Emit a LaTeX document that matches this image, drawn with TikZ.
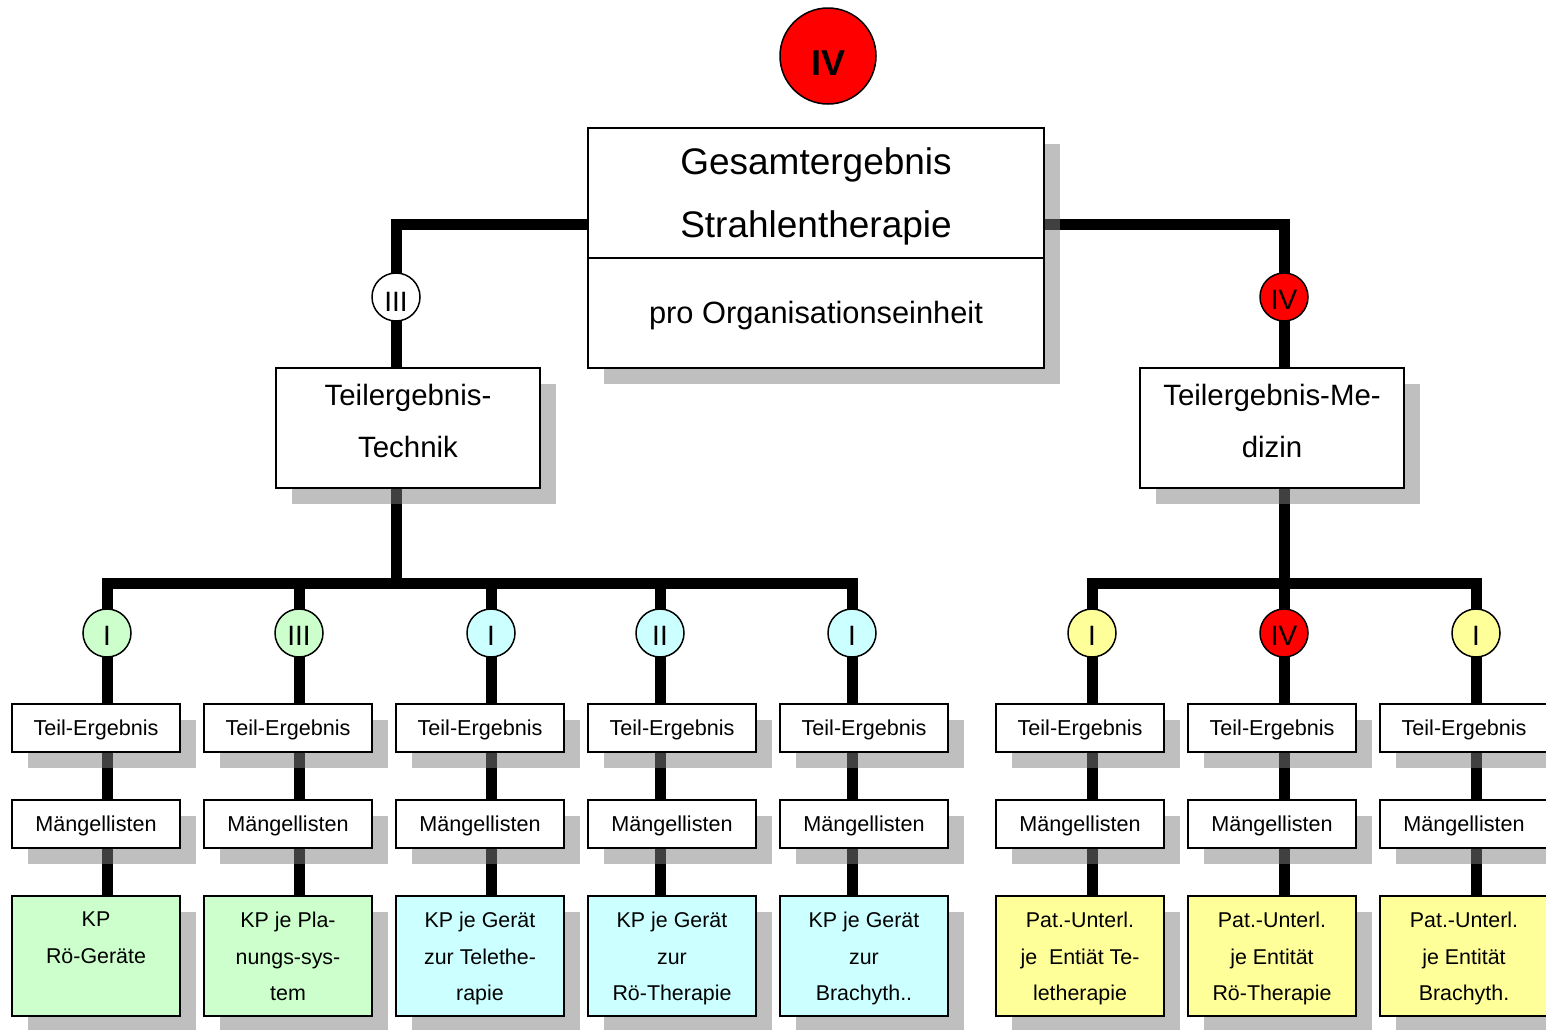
\documentclass[tikz,border=0pt]{standalone}
\usepackage{fontspec}
\setmainfont{Liberation Sans}
\usetikzlibrary{shadows}
\pgfdeclarelayer{lines}
\pgfsetlayers{lines,main}
\definecolor{grn}{HTML}{CCFFCC}
\definecolor{cyn}{HTML}{CCFFFF}
\definecolor{ylw}{HTML}{FFFF99}
\begin{document}
\begin{tikzpicture}[x=1pt,y=-1pt,
  conn/.style={line width=11pt},
  busline/.style={line width=11pt, line cap=rect},
  box/.style={draw, line width=1.5pt, fill=white, inner sep=0pt,
    drop shadow={shadow xshift=16pt, shadow yshift=-16pt}},
  rnd/.style={circle, draw, line width=1.5pt, inner sep=0pt, minimum size=48pt,
    font=\fontsize{28}{30}\selectfont, text height=24pt, text depth=0pt},
  small/.style={font=\fontsize{21.6}{25}\selectfont},
  kptext/.style={font=\fontsize{21.4}{36.5}\selectfont, align=center, inner sep=0pt, anchor=north},
  midtext/.style={font=\fontsize{29.4}{51.5}\selectfont, align=center, inner sep=0pt, anchor=north},
]
\useasboundingbox (0,0) rectangle (1546,1029);

% named coordinates for connector routing
\coordinate (yTop) at (0,224);
\coordinate (yBus) at (0,583);
\coordinate (yDiv) at (0,258);
\coordinate (xT) at (396,0);
\coordinate (xM) at (1284,0);

% top level
\node[rnd, fill=red, minimum size=96pt, font=\bfseries\fontsize{36}{40}\selectfont, text height=38pt] (top) at (828,56) {IV};
\node[box, minimum width=456pt, minimum height=240pt] (main) at (816,248) {};
\draw[line width=1.5pt] (main.west |- yDiv) -- (main.east |- yDiv);
\node[anchor=base, inner sep=0pt, font=\fontsize{37}{40}\selectfont] (g1) at (816,174) {Gesamtergebnis};
\node[anchor=base, inner sep=0pt, font=\fontsize{37}{40}\selectfont] (g2) at (816,237) {Strahlentherapie};
\node[anchor=base, inner sep=0pt, font=\fontsize{30.8}{32}\selectfont] (g3) at (816,323) {pro Organisationseinheit};

% second level
\node[box, minimum width=264pt, minimum height=120pt] (tech) at (408,428) {};
\node[midtext] (techt) at (408,384) {Teilergebnis-\\Technik};
\node[box, minimum width=264pt, minimum height=120pt] (med) at (1272,428) {};
\node[midtext] (medt) at (1272,384) {Teilergebnis-Me-\\dizin};

\node[rnd, fill=white, text height=28pt] (ctech) at (396,297) {III};
\node[rnd, fill=red] (cmed) at (1284,297) {IV};

\begin{pgfonlayer}{lines}
  \draw[conn] (main.west |- yTop) -| (tech.north -| xT);
  \draw[conn] (main.east |- yTop) -| (med.north -| xM);
  \draw[conn] (tech.south -| xT) -- (xT |- yBus);
  \draw[conn] (med.south -| xM) -- (xM |- yBus);
\end{pgfonlayer}

% bottom columns
\foreach \i/\cx/\lx/\bc/\cc/\r/\txt in {
  1/96/107/grn/grn/I/{KP\\Rö-Geräte},
  2/288/299/grn/grn/III/{KP je Pla-\\nungs-sys-\\tem},
  3/480/491/cyn/cyn/I/{KP je Gerät\\zur Telethe-\\rapie},
  4/672/660/cyn/cyn/II/{KP je Gerät\\zur\\Rö-Therapie},
  5/864/852/cyn/cyn/I/{KP je Gerät\\zur\\Brachyth..},
  6/1080/1092/ylw/ylw/I/{Pat.-Unterl.\\je~ Entiät Te-\\letherapie},
  7/1272/1284/ylw/red/IV/{Pat.-Unterl.\\je Entität\\Rö-Therapie},
  8/1464/1476/ylw/ylw/I/{Pat.-Unterl.\\je Entität\\Brachyth.}}{
  \coordinate (l\i) at (\lx,583);
  \node[box, small, minimum width=168pt, minimum height=48pt, text height=15pt, text depth=1pt] (te\i) at (\cx,728) {Teil-Ergebnis};
  \node[box, small, minimum width=168pt, minimum height=48pt, text height=15pt, text depth=1pt] (ml\i) at (\cx,824) {Mängellisten};
  \node[box, fill=\bc, minimum width=168pt, minimum height=120pt] (kp\i) at (\cx,956) {};
  \node[kptext] (kt\i) at (\cx,912) {\txt};
  \node[rnd, fill=\cc] (c\i) at (\lx,633) {\r};
  \begin{pgfonlayer}{lines}
    \draw[conn] (l\i) -- (l\i |- kp\i.north);
  \end{pgfonlayer}
}

\begin{pgfonlayer}{lines}
  \draw[busline] (l1) -- (l5);
  \draw[busline] (l6) -- (l8);
\end{pgfonlayer}
\end{tikzpicture}
\end{document}
